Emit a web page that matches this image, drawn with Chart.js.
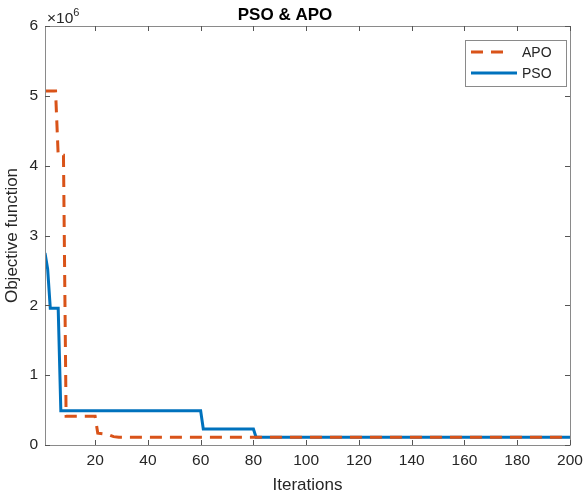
<!DOCTYPE html>
<html>
<head>
<meta charset="utf-8">
<script src="https://cdn.jsdelivr.net/npm/chart.js@4/dist/chart.umd.min.js"></script>
<style>
  html, body { margin: 0; padding: 0; background: #fff; }
</style>
</head>
<body>
<canvas id="chart" width="585" height="499"></canvas>
<script>
// *** data for display ***
const APO_X = [1, 5, 6, 8, 9, 20, 21, 25, 27, 29, 200];
const APO_Y = [5.07e6, 5.07e6, 4.15e6, 4.15e6, 0.41e6, 0.41e6, 0.17e6, 0.15e6, 0.12e6, 0.11e6, 0.11e6];
const PSO_X = [1, 2, 3, 6, 7, 60, 61, 80, 81, 200];
const PSO_Y = [2.75e6, 2.52e6, 1.96e6, 1.96e6, 0.49e6, 0.49e6, 0.23e6, 0.23e6, 0.11e6, 0.11e6];
const X_TICKS = [20, 40, 60, 80, 100, 120, 140, 160, 180, 200];
const Y_TICKS = [0, 1e6, 2e6, 3e6, 4e6, 5e6, 6e6];
const Y_TICK_LABELS = ['0', '1', '2', '3', '4', '5', '6'];

const APO_COLOR = '#D95319';
const PSO_COLOR = '#0072BD';
const AXIS_COLOR = '#262626';
const FONT = '"Liberation Sans", Arial, Helvetica, sans-serif';

function toPoints(xs, ys) {
    return xs.map((x, i) => ({ x: x, y: ys[i] }));
}

// *** box, inner ticks, exponent and legend (matlab look) ***
const matlabAxes = {
    id: 'matlabAxes',
    afterDatasetsDraw(chart) {
        const ctx = chart.ctx;
        const a = chart.chartArea;
        const xs = chart.scales.x, ys = chart.scales.y;
        ctx.save();
        ctx.strokeStyle = '#8a8a8a';
        ctx.lineWidth = 1;
        ctx.beginPath();
        ctx.rect(Math.round(a.left) + 0.5, Math.round(a.top) + 0.5,
                 Math.round(a.right - a.left), Math.round(a.bottom - a.top));
        ctx.stroke();
        ctx.strokeStyle = '#555';
        ctx.beginPath();
        X_TICKS.forEach(v => {
            const px = Math.round(xs.getPixelForValue(v)) + 0.5;
            ctx.moveTo(px, a.bottom); ctx.lineTo(px, a.bottom - 5);
            ctx.moveTo(px, a.top); ctx.lineTo(px, a.top + 5);
        });
        Y_TICKS.forEach(v => {
            const py = Math.round(ys.getPixelForValue(v)) + 0.5;
            ctx.moveTo(a.left, py); ctx.lineTo(a.left + 5, py);
            ctx.moveTo(a.right, py); ctx.lineTo(a.right - 5, py);
        });
        ctx.stroke();

        // exponent label
        ctx.fillStyle = AXIS_COLOR;
        ctx.textBaseline = 'alphabetic';
        ctx.textAlign = 'left';
        ctx.font = '15.5px ' + FONT;
        ctx.fillText('\u00d710', a.left + 2, a.top - 3);
        const w = ctx.measureText('\u00d710').width;
        ctx.font = '11px ' + FONT;
        ctx.fillText('6', a.left + 2 + w, a.top - 10);

        // legend
        const lx = 465, ly = 40, lw = 101, lh = 46;
        ctx.fillStyle = '#fff';
        ctx.fillRect(lx, ly, lw, lh);
        ctx.strokeStyle = '#8a8a8a';
        ctx.lineWidth = 1;
        ctx.strokeRect(lx + 0.5, ly + 0.5, lw, lh);
        chart.data.datasets.forEach((ds, i) => {
            const y = ly + 12 + i * 21;
            const dashed = !!ds.borderDash;
            ctx.strokeStyle = ds.borderColor;
            ctx.lineWidth = 3;
            ctx.setLineDash(ds.borderDash || []);
            ctx.beginPath();
            ctx.moveTo(lx + 6, y); ctx.lineTo(lx + (dashed ? 38 : 52), y);
            ctx.stroke();
            ctx.setLineDash([]);
            ctx.fillStyle = AXIS_COLOR;
            ctx.font = '14px ' + FONT;
            ctx.textBaseline = 'middle';
            ctx.fillText(ds.label, lx + 57, y + 1);
        });
        ctx.restore();
    }
};

// *** display chart ***
const ctx = document.getElementById('chart').getContext('2d');
const myLineChart = new Chart(ctx, {
    type: 'line',
    data: {
        datasets: [
            {
                label: 'APO',
                data: toPoints(APO_X, APO_Y),
                borderColor: APO_COLOR,
                borderWidth: 3,
                borderDash: [12, 8],
                pointRadius: 0,
                fill: false,
                tension: 0
            },
            {
                label: 'PSO',
                data: toPoints(PSO_X, PSO_Y),
                borderColor: PSO_COLOR,
                borderWidth: 3,
                pointRadius: 0,
                fill: false,
                tension: 0
            }
        ]
    },
    options: {
        responsive: false,
        animation: false,
        layout: { padding: { right: 15, left: 0, top: 0, bottom: 0 } },
        plugins: {
            legend: { display: false },
            tooltip: { enabled: false },
            title: {
                display: true,
                text: 'PSO & APO',
                color: '#000',
                font: { family: FONT, size: 17, weight: 'bold' },
                padding: { top: 5.5, bottom: 0.1 }
            }
        },
        scales: {
            x: {
                type: 'linear',
                min: 1,
                max: 200,
                afterBuildTicks: s => { s.ticks = X_TICKS.map(v => ({ value: v })); },
                afterFit: s => { s.height = 54; s.paddingLeft = 0; s.paddingRight = 0; },
                grid: { display: false, drawTicks: false, tickLength: 0 },
                border: { display: false },
                ticks: { color: AXIS_COLOR, font: { family: FONT, size: 15.5 }, padding: 6, maxRotation: 0 },
                title: { display: true, text: 'Iterations', color: AXIS_COLOR, font: { family: FONT, size: 17 }, padding: { top: 0, bottom: 3 } }
            },
            y: {
                type: 'linear',
                min: 0,
                max: 6e6,
                afterBuildTicks: s => { s.ticks = Y_TICKS.map(v => ({ value: v })); },
                afterFit: s => { s.width = 45; s.paddingTop = 0; s.paddingBottom = 0; },
                grid: { display: false, drawTicks: false, tickLength: 0 },
                border: { display: false },
                ticks: {
                    color: AXIS_COLOR, font: { family: FONT, size: 15.5 }, padding: 7,
                    callback: (v) => Y_TICK_LABELS[Y_TICKS.indexOf(v)]
                },
                title: { display: true, text: 'Objective function', color: AXIS_COLOR, font: { family: FONT, size: 17 }, padding: { top: 2, bottom: 0 } }
            }
        }
    },
    plugins: [matlabAxes]
});
</script>
</body>
</html>
